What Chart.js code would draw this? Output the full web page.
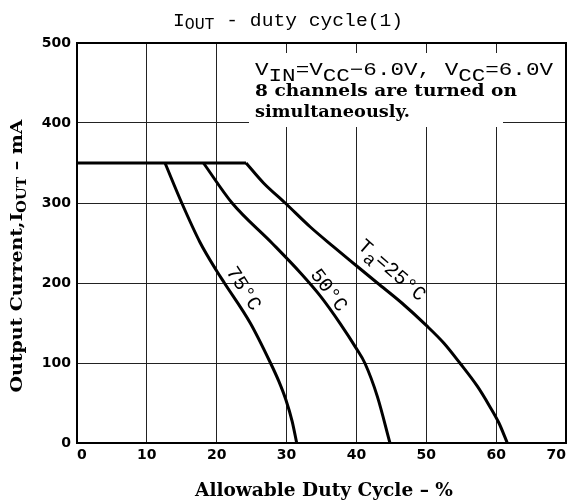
<!DOCTYPE html>
<html>
<head>
<meta charset="utf-8">
<script src="https://cdn.jsdelivr.net/npm/chart.js@4"></script>
<style>
html, body { margin: 0; padding: 0; background: #fff; }
#wrap { width: 573px; height: 503px; position: relative; }
</style>
</head>
<body>
<div id="wrap"><canvas id="dutyChart"></canvas></div>
<script>
// axis ranges / ticks
const xTicks = [0, 10, 20, 30, 40, 50, 60, 70];
const yTicks = [0, 100, 200, 300, 400, 500];

// common plateau at 350 mA
const plateauX = [0, 24.2];
const plateauY = [350, 350];

// Ta = 25 C
const ta25X = [24.2, 26.7, 29.8, 33.4, 36.7, 40, 43, 46.5, 50, 52.5, 54.8, 57.3, 59, 60.4, 61.6];
const ta25Y = [350, 325, 300, 270, 245.5, 221.6, 200, 175, 147, 125, 100, 71, 47, 25, 0];

// Ta = 50 C
const ta50X = [18.1, 22.2, 27.9, 32.0, 34.9, 37.7, 40, 41.2, 43.0, 44.8];
const ta50Y = [350, 300, 250, 212.5, 183, 149, 118, 100, 58, 0];

// Ta = 75 C
const ta75X = [12.6, 15.0, 17.6, 20.0, 21.1, 24.8, 27.7, 28.9, 29.9, 30.8, 31.45];
const ta75Y = [350, 300, 251, 215, 200, 150, 100, 77, 54, 27, 0];

function pts(xs, ys) {
    return xs.map((x, i) => ({ x: x, y: ys[i] }));
}

function curve(label, xs, ys) {
    return {
        label: label,
        data: pts(xs, ys),
        borderColor: '#000',
        borderWidth: 3,
        pointRadius: 0,
        fill: false,
        cubicInterpolationMode: 'monotone'
    };
}

// draws a run of text pieces (sub/superscripts), optionally squeezed to a width
function drawRich(ctx, parts, x, y, align, width) {
    let w = 0;
    parts.forEach(p => { ctx.font = p.font; p.w = ctx.measureText(p.t).width; w += p.w; });
    let sx = width ? width / w : 1;
    let total = w * sx;
    let start = align === 'center' ? x - total / 2 : (align === 'right' ? x - total : x);
    ctx.save();
    ctx.translate(start, y);
    ctx.scale(sx, 1);
    ctx.textAlign = 'left';
    ctx.textBaseline = 'alphabetic';
    ctx.fillStyle = '#000';
    let cx = 0;
    parts.forEach(p => {
        ctx.font = p.font;
        ctx.fillText(p.t, cx, p.dy || 0);
        cx += p.w;
    });
    ctx.restore();
}

const mono = '"Liberation Mono", monospace';
const serifB = 'bold 17px "DejaVu Serif", serif';

const textPlugin = {
    id: 'textPlugin',
    afterDraw(chart) {
        const ctx = chart.ctx;
        const a = chart.chartArea;
        const xs = chart.scales.x, ys = chart.scales.y;

        // white patch behind the condition note
        ctx.save();
        ctx.fillStyle = '#fff';
        ctx.fillRect(249, 53, a.right - 250, 48);
        ctx.fillRect(249, 100, 254, 27);
        ctx.restore();

        // frame
        ctx.save();
        ctx.strokeStyle = '#000';
        ctx.lineWidth = 2;
        ctx.strokeRect(a.left, a.top, a.right - a.left, a.bottom - a.top);
        ctx.restore();

        // title
        drawRich(ctx, [
            { t: 'I', font: '19px ' + mono },
            { t: 'OUT', font: '16px ' + mono, dy: 3 },
            { t: ' - duty cycle(1)', font: '19px ' + mono }
        ], 173, 26, 'left', 230);

        // condition note
        drawRich(ctx, [
            { t: 'V', font: '18px ' + mono },
            { t: 'IN', font: '18px ' + mono, dy: 6 },
            { t: '=V', font: '18px ' + mono },
            { t: 'CC', font: '18px ' + mono, dy: 6 },
            { t: '\u22126.0V, V', font: '18px ' + mono },
            { t: 'CC', font: '18px ' + mono, dy: 6 },
            { t: '=6.0V', font: '18px ' + mono }
        ], 255, 75, 'left', 298);
        drawRich(ctx, [{ t: '8 channels are turned on', font: serifB }], 255, 96, 'left', 262);
        drawRich(ctx, [{ t: 'simultaneously.', font: serifB }], 255, 117, 'left', 155);

        // curve labels
        const labels = [
            { x: 45.2, y: 217, rot: 41, parts: [
                { t: 'T', font: '20px ' + mono },
                { t: 'a', font: '18px ' + mono, dy: 6 },
                { t: '=25\u00b0C', font: '20px ' + mono }
            ] },
            { x: 36.2, y: 192, rot: 53, parts: [{ t: '50\u00b0C', font: '20px ' + mono }] },
            { x: 24.0, y: 194, rot: 57, parts: [{ t: '75\u00b0C', font: '20px ' + mono }] }
        ];
        labels.forEach(l => {
            ctx.save();
            ctx.translate(xs.getPixelForValue(l.x), ys.getPixelForValue(l.y));
            ctx.rotate(l.rot * Math.PI / 180);
            drawRich(ctx, l.parts, 0, 7, 'center');
            ctx.restore();
        });

        // axis titles
        drawRich(ctx, [{ t: 'Allowable Duty Cycle \u2013 %', font: 'bold 18px "DejaVu Serif", serif' }],
            324, 496, 'center', 258);

        ctx.save();
        ctx.translate(22, 256);
        ctx.rotate(-Math.PI / 2);
        drawRich(ctx, [
            { t: 'Output Current,I', font: 'bold 17px "DejaVu Serif", serif' },
            { t: 'OUT', font: 'bold 13px "DejaVu Serif", serif', dy: 4 },
            { t: ' \u2013 mA', font: 'bold 17px "DejaVu Serif", serif' }
        ], 0, 0, 'center', 273);
        ctx.restore();
    }
};

const ctx = document.getElementById('dutyChart').getContext('2d');
const dutyChart = new Chart(ctx, {
    type: 'line',
    data: {
        datasets: [
            curve('plateau', plateauX, plateauY),
            curve('Ta=25C', ta25X, ta25Y),
            curve('Ta=50C', ta50X, ta50Y),
            curve('Ta=75C', ta75X, ta75Y)
        ]
    },
    options: {
        responsive: true,
        maintainAspectRatio: false,
        animation: false,
        layout: { padding: { top: 43, right: 7, left: 0, bottom: 0 } },
        scales: {
            x: {
                type: 'linear',
                min: 0,
                max: 70,
                afterBuildTicks: s => { s.ticks = xTicks.map(v => ({ value: v })); },
                afterFit: s => { s.height = 60; },
                grid: { color: '#222', lineWidth: 1, drawTicks: false },
                border: { display: true, color: '#000', width: 2 },
                ticks: {
                    align: 'inner',
                    padding: 4,
                    color: '#000',
                    font: { family: '"DejaVu Sans", sans-serif', weight: 'bold', size: 14 }
                }
            },
            y: {
                min: 0,
                max: 500,
                afterBuildTicks: s => { s.ticks = yTicks.map(v => ({ value: v })); },
                afterFit: s => { s.width = 77; },
                grid: { color: '#222', lineWidth: 1, drawTicks: false },
                border: { display: true, color: '#000', width: 2 },
                ticks: {
                    padding: 6,
                    color: '#000',
                    font: { family: '"DejaVu Sans", sans-serif', weight: 'bold', size: 14 }
                }
            }
        },
        plugins: {
            legend: { display: false },
            tooltip: { enabled: false },
            title: { display: false }
        }
    },
    plugins: [textPlugin]
});
</script>
</body>
</html>
